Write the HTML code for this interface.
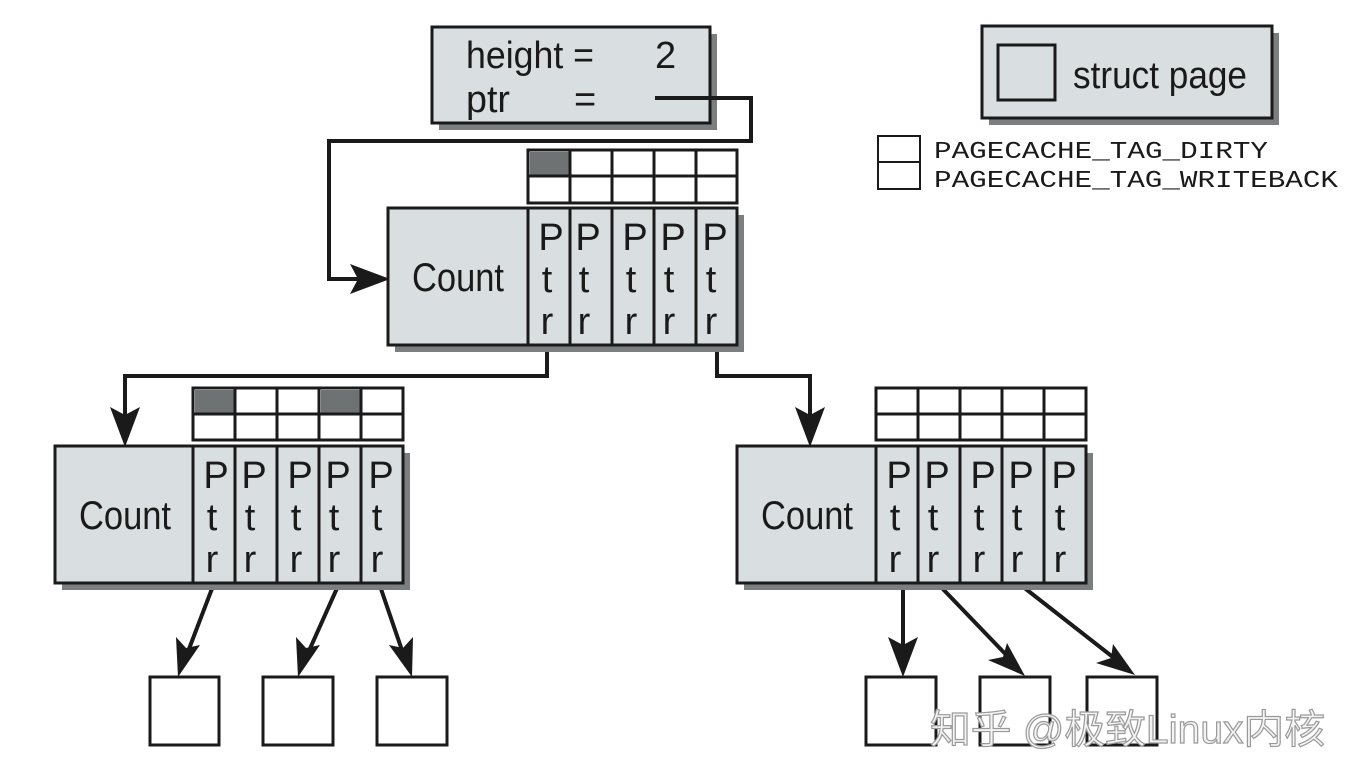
<!DOCTYPE html>
<html><head><meta charset="utf-8"><style>
html,body{margin:0;padding:0;background:#fff;width:1356px;height:784px;overflow:hidden}
svg{display:block}
.c{font-family:"Liberation Sans Narrow","Liberation Sans",sans-serif;fill:#1a1a1a}
.m{font-family:"Liberation Mono",monospace;fill:#1a1a1a}
</style></head><body>
<svg width="1356" height="784" viewBox="0 0 1356 784" xmlns="http://www.w3.org/2000/svg">
<g stroke="#1a1a1a" stroke-width="3">
<rect x="439" y="34" width="278" height="96" fill="#7b7f80" stroke="none"/>
<rect x="432" y="27" width="278" height="96" fill="#d9dee0"/>
<rect x="989" y="33" width="290" height="92" fill="#7b7f80" stroke="none"/>
<rect x="982" y="26" width="290" height="92" fill="#d9dee0"/>
<rect x="998" y="45" width="57" height="55" fill="#d9dee0"/>
<rect x="878" y="136" width="42" height="53" fill="#fff" stroke-width="2"/>
<line x1="878" y1="162" x2="920" y2="162" stroke-width="2"/>
</g>
<text class="c" x="466" y="68" font-size="38" textLength="128" lengthAdjust="spacingAndGlyphs">height =</text>
<text class="c" x="655" y="68" font-size="38">2</text>
<text class="c" x="466" y="112" font-size="38" textLength="44" lengthAdjust="spacingAndGlyphs">ptr</text>
<text class="c" x="574" y="112" font-size="38">=</text>
<text class="c" x="1073" y="88" font-size="38" textLength="174" lengthAdjust="spacingAndGlyphs">struct page</text>
<text class="m" x="934" y="158" font-size="24" textLength="334" lengthAdjust="spacingAndGlyphs">PAGECACHE_TAG_DIRTY</text>
<text class="m" x="934" y="187" font-size="24" textLength="404" lengthAdjust="spacingAndGlyphs">PAGECACHE_TAG_WRITEBACK</text>

<g fill="none" stroke="#1a1a1a" stroke-width="4">
<polyline points="655,98 751,98 751,141 329,141 329,279 378,279" />
<polyline points="547,345 547,376 125,376 125,434"/>
<polyline points="717,345 717,376 810,376 810,434"/>
<line x1="213" y1="586" x2="184" y2="662"/>
<line x1="338" y1="586" x2="304" y2="662"/>
<line x1="380" y1="586" x2="406" y2="662"/>
<line x1="903" y1="586" x2="903" y2="662"/>
<line x1="940" y1="586" x2="1014" y2="663"/>
<line x1="1022" y1="586" x2="1123" y2="665"/>
</g>
<g fill="#1a1a1a">
<path d="M390,279 L350,264 L358,279 L350,294 Z"/>
<path d="M125,447 L110,407 L125,415 L140,407 Z"/>
<path d="M810,447 L795,407 L810,415 L825,407 Z"/>
<path d="M178,677 L176,637 L186,648 L200,645 Z"/>
<path d="M298,677 L296,637 L306,648 L320,645 Z"/>
<path d="M412,677 L389,645 L403,648 L413,637 Z"/>
<path d="M903,677 L888,637 L903,645 L918,637 Z"/>
<path d="M1025,676 L988,660 L1003,657 L1007,643 Z"/>
<path d="M1135,675 L1096,663 L1111,658 L1113,644 Z"/>
</g>

<g fill="#fff" stroke="#1a1a1a" stroke-width="3">
<rect x="150" y="677" width="69" height="68"/>
<rect x="263" y="677" width="70" height="68"/>
<rect x="377" y="677" width="70" height="68"/>
<rect x="866" y="677" width="70" height="68"/>
<rect x="980" y="677" width="70" height="68"/>
<rect x="1087" y="677" width="70" height="68"/>
</g>

<g stroke="#1a1a1a" stroke-width="3">
<rect x="395" y="215" width="349" height="137" fill="#7b7f80" stroke="none"/>
<rect x="388" y="208" width="349" height="137" fill="#d9dee0"/>
<path d="M528,208V345M570,208V345M612,208V345M654,208V345M696,208V345" fill="none"/>
<rect x="528" y="150" width="209" height="53" fill="#fff"/>
<rect x="530" y="152" width="40" height="24" fill="#6e7273" stroke="none"/>
<path d="M528,176H737M570,150V203M612,150V203M654,150V203M696,150V203" fill="none"/>
</g>
<text class="c" x="458" y="291" font-size="40" text-anchor="middle" textLength="92" lengthAdjust="spacingAndGlyphs">Count</text>
<g class="c" font-size="38" text-anchor="middle">
<text x="551" y="250">P</text><text x="547" y="292">t</text><text x="547" y="334">r</text>
<text x="588" y="250">P</text><text x="584" y="292">t</text><text x="584" y="334">r</text>
<text x="635" y="250">P</text><text x="631" y="292">t</text><text x="631" y="334">r</text>
<text x="673" y="250">P</text><text x="669" y="292">t</text><text x="669" y="334">r</text>
<text x="715" y="250">P</text><text x="711" y="292">t</text><text x="711" y="334">r</text>
</g>

<g stroke="#1a1a1a" stroke-width="3">
<rect x="62" y="453" width="348" height="137" fill="#7b7f80" stroke="none"/>
<rect x="55" y="446" width="348" height="137" fill="#d9dee0"/>
<path d="M193,446V583M235,446V583M277,446V583M319,446V583M361,446V583" fill="none"/>
<rect x="193" y="388" width="210" height="52" fill="#fff"/>
<rect x="195" y="390" width="40" height="24" fill="#6e7273" stroke="none"/>
<rect x="321" y="390" width="40" height="24" fill="#6e7273" stroke="none"/>
<path d="M193,414H403M235,388V440M277,388V440M319,388V440M361,388V440" fill="none"/>
</g>
<text class="c" x="125" y="529" font-size="40" text-anchor="middle" textLength="92" lengthAdjust="spacingAndGlyphs">Count</text>
<g class="c" font-size="38" text-anchor="middle">
<text x="216" y="488">P</text><text x="212" y="530">t</text><text x="212" y="572">r</text>
<text x="254" y="488">P</text><text x="250" y="530">t</text><text x="250" y="572">r</text>
<text x="300" y="488">P</text><text x="296" y="530">t</text><text x="296" y="572">r</text>
<text x="338" y="488">P</text><text x="334" y="530">t</text><text x="334" y="572">r</text>
<text x="381" y="488">P</text><text x="377" y="530">t</text><text x="377" y="572">r</text>
</g>

<g stroke="#1a1a1a" stroke-width="3">
<rect x="744" y="453" width="349" height="137" fill="#7b7f80" stroke="none"/>
<rect x="737" y="446" width="349" height="137" fill="#d9dee0"/>
<path d="M876,446V583M918,446V583M960,446V583M1002,446V583M1044,446V583" fill="none"/>
<rect x="876" y="388" width="210" height="52" fill="#fff"/>
<path d="M876,414H1086M918,388V440M960,388V440M1002,388V440M1044,388V440" fill="none"/>
</g>
<text class="c" x="807" y="529" font-size="40" text-anchor="middle" textLength="92" lengthAdjust="spacingAndGlyphs">Count</text>
<g class="c" font-size="38" text-anchor="middle">
<text x="899" y="488">P</text><text x="895" y="530">t</text><text x="895" y="572">r</text>
<text x="937" y="488">P</text><text x="933" y="530">t</text><text x="933" y="572">r</text>
<text x="983" y="488">P</text><text x="979" y="530">t</text><text x="979" y="572">r</text>
<text x="1021" y="488">P</text><text x="1017" y="530">t</text><text x="1017" y="572">r</text>
<text x="1064" y="488">P</text><text x="1060" y="530">t</text><text x="1060" y="572">r</text>
</g>

<text x="930" y="743" font-size="40" font-family="'Liberation Sans','Noto Sans CJK SC',sans-serif" fill="#f4f4f4" stroke="#9a9a9a" stroke-width="1.2" textLength="395" lengthAdjust="spacingAndGlyphs">知乎 @极致Linux内核</text>
</svg>
</body></html>
